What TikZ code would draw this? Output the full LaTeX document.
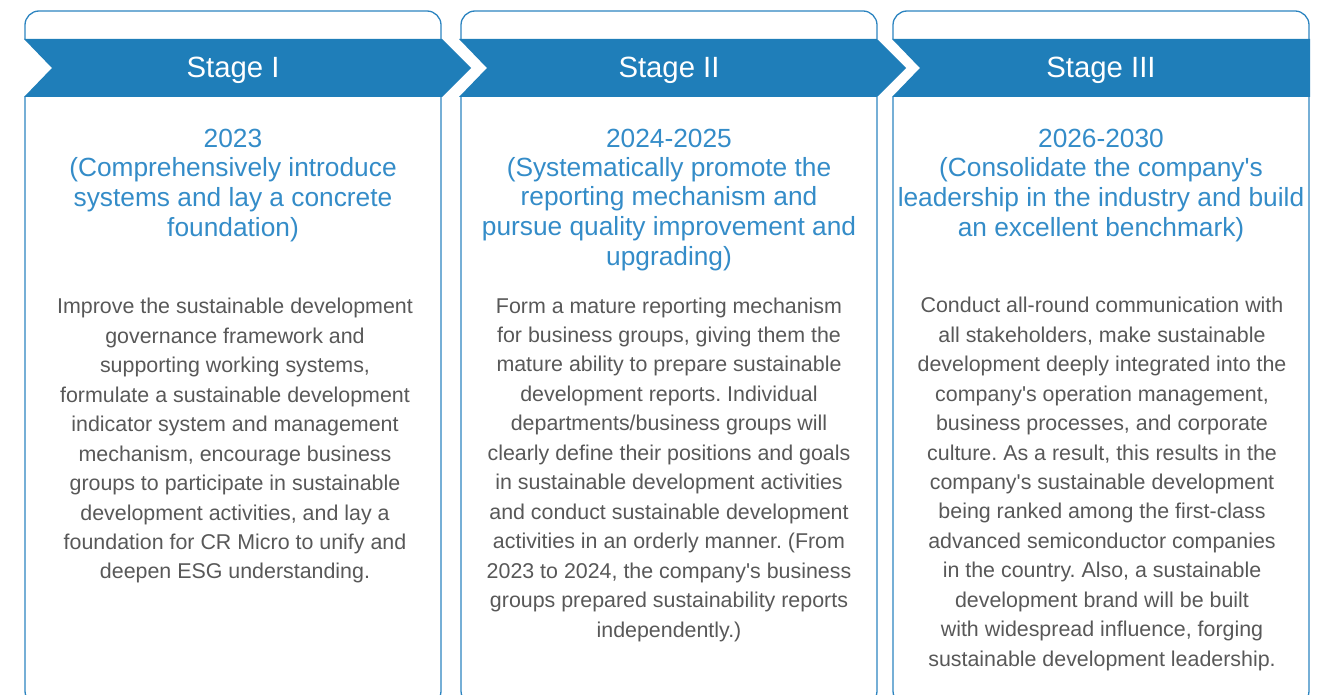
\documentclass[tikz,border=0pt]{standalone}
\usepackage{fontspec}
\setmainfont{Liberation Sans}[Ligatures=TeXOff]
\usetikzlibrary{positioning}
\definecolor{bannerblue}{RGB}{31,126,185}
\definecolor{frameblue}{RGB}{44,132,192}
\definecolor{headblue}{RGB}{52,140,200}
\definecolor{bodygray}{RGB}{88,88,88}
\frenchspacing
\tikzset{panel/.style = {draw=frameblue, line width=1.3pt, rounded corners=14pt}}
\tikzset{banner/.style = {fill=bannerblue}}
\tikzset{stagetitle/.style = {text=white, anchor=base, inner sep=0pt, font=\fontsize{29.3}{34}\selectfont}}
% base of a multi-line node = baseline of its last line
\tikzset{period/.style = {text=headblue, align=center, anchor=base, inner sep=0pt, font=\fontsize{26.3}{29.5}\selectfont}}
\tikzset{detail/.style = {text=bodygray, align=center, anchor=base, inner sep=0pt, font=\fontsize{21.4}{29.45}\selectfont}}

\begin{document}
\begin{tikzpicture}[x=1pt, y=-1pt]
\useasboundingbox (0,0) rectangle (1335,695);
\draw [panel] (25,11) rectangle (441,705);
\draw [panel] (461,11) rectangle (877,705);
\draw [panel] (893,11) rectangle (1309,705);
\fill [white] (15,39) rectangle (1320,97);
\fill [banner] (24,39) -- (442,39) -- (471,68) -- (442,97) -- (24,97) -- (52,68) -- cycle;
\fill [banner] (459,39) -- (877,39) -- (906,68) -- (877,97) -- (459,97) -- (487,68) -- cycle;
\fill [banner] (892,39) -- (1310,39) -- (1310,97) -- (892,97) -- (920,68) -- cycle;
\node [stagetitle] (S1) at (233,78) {Stage I};
\node [stagetitle] (S2) at (669,78) {Stage II};
\node [stagetitle] (S3) at (1101,78) {Stage III};
\node [period] (P1) at (233,236) {2023\\(Comprehensively introduce\\systems and lay a concrete\\foundation)};
\node [period] (P2) at (669,265) {2024-2025\\(Systematically promote the\\reporting mechanism and\\pursue quality improvement and\\upgrading)};
\node [period] (P3) at (1101,236) {2026-2030\\(Consolidate the company's\\leadership in the industry and build\\an excellent benchmark)};
\node [detail] (D1) at (235,578.9) {Improve the sustainable development\\governance framework and\\supporting working systems,\\formulate a sustainable development\\indicator system and management\\mechanism, encourage business\\groups to participate in sustainable\\development activities, and lay a\\foundation for CR Micro to unify and\\deepen ESG understanding.};
\node [detail] (D2) at (669,637) {Form a mature reporting mechanism\\for business groups, giving them the\\mature ability to prepare sustainable\\development reports. Individual\\departments/business groups will\\clearly define their positions and goals\\in sustainable development activities\\and conduct sustainable development\\activities in an orderly manner. (From\\2023 to 2024, the company's business\\groups prepared sustainability reports\\independently.)};
\node [detail] (D3) at (1102,666.2) {Conduct all-round communication with\\all stakeholders, make sustainable\\development deeply integrated into the\\company's operation management,\\business processes, and corporate\\culture. As a result, this results in the\\company's sustainable development\\being ranked among the first-class\\advanced semiconductor companies\\in the country. Also, a sustainable\\development brand will be built\\with widespread influence, forging\\sustainable development leadership.};
\end{tikzpicture}
\end{document}
